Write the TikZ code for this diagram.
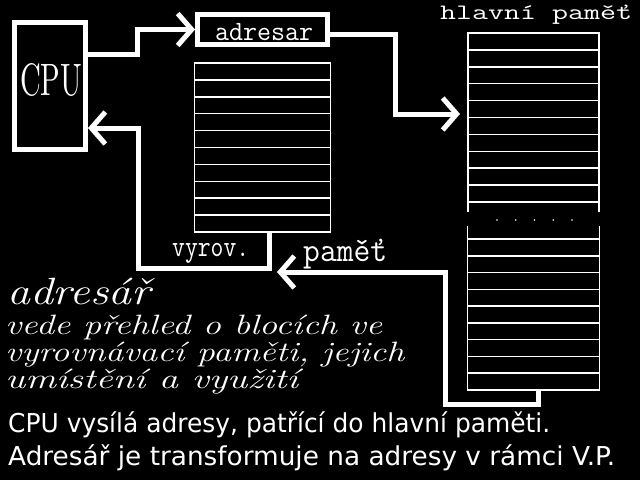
\documentclass[tikz,border=0pt]{standalone}
\usepackage{fontspec}
\usepackage{graphicx}
\usetikzlibrary{arrows.meta,positioning}
\newfontfamily\vgafont{DejaVu Sans}
\newcommand{\lblfont}{\ttfamily}
\newcommand{\fitw}[2]{\resizebox{#1}{\height}{#2}}
\tikzset{
  thickbox/.style={draw=white, line width=5pt, inner sep=0pt},
  rowbox/.style={draw=white, line width=1.5pt, inner sep=0pt, outer sep=0pt},
  row/.style={draw=white, line width=1.5pt},
  arr/.style={-{Straight Barb[length=14pt, width=32pt]}, line width=5pt, draw=white},
  txt/.style={text=white, inner sep=0pt, anchor=base west}
}
\begin{document}
\begin{tikzpicture}[x=1pt, y=-1pt]
\useasboundingbox (0,0) rectangle (640,480);
\fill[black] (0,0) rectangle (640,480);
% processor
\node[thickbox, minimum width=71pt, minimum height=127pt] (cpu) at (50,86) {};
\node[txt] (cpuname) at (20,95) {\resizebox{62pt}{32pt}{CPU}};
% directory and cache
\node[thickbox, minimum width=130pt, minimum height=30pt] (adresar) at (262.5,29.5) {};
\node[txt, font=\lblfont\fontsize{28}{28}\selectfont] (adrname) at (215,40) {\fitw{98pt}{adresar}};
\node[rowbox, minimum width=136pt, minimum height=169pt, below=16pt of adresar] (cache) {};
\foreach \i in {1,...,9}
  \draw[row] (cache.north west) ++(0,\i*16.9) -- ++(136,0);
\node[txt, font=\lblfont\fontsize{30}{30}\selectfont] (vyrov) at (172,256) {\fitw{77pt}{vyrov.}};
% main memory
\node[txt, font=\lblfont\fontsize{22}{22}\selectfont] (memname) at (440,19) {\fitw{192pt}{hlavní paměť}};
\node[rowbox, minimum width=131pt, minimum height=169pt] (memtop) at (533.5,117.5) {};
\foreach \i in {1,...,9}
  \draw[row] (memtop.north west) ++(0,\i*16.9) -- ++(131,0);
\node[rowbox, minimum width=132pt, minimum height=151pt, below=37pt of memtop] (membot) {};
\foreach \i in {1,...,8}
  \draw[row] (membot.north west) ++(0,\i*16.78) -- ++(132,0);
\draw[row] (memtop.south west) -- ++(0,10);
\draw[row] (memtop.south east) -- ++(0,10);
\draw[row] (membot.north west) -- ++(0,-13);
\draw[row] (membot.north east) -- ++(0,-13);
\foreach \k in {-2,...,2}
  \fill[white] (memtop.south) ++(\k*18.75+1,18) circle (0.9pt);
% connectors
\coordinate (vpin) at (277,272);
\draw[arr] ([yshift=32pt]cpu.east) -- ++(49,0) |- (adresar.west);
\draw[arr, shorten >=8pt] ([yshift=-5pt]adresar.east) -- ++(65,0) |- ([yshift=3.5pt]memtop.west);
\draw[arr] ([xshift=7pt]cache.south) -- ++(0,36) -- ++(-131,0) |- ([yshift=-42pt]cpu.east);
\draw[arr] ([xshift=4.5pt]membot.south) -- ++(0,14) -- ++(-93,0) |- (vpin);
\node[txt, font=\lblfont\fontsize{34}{34}\selectfont] (vpname) at (303,261) {\fitw{84pt}{paměť}};
% texts
\node[txt, font=\itshape\fontsize{38}{38}\selectfont] (dirtitle) at (7,304) {\fitw{143pt}{adresář}};
\node[txt, font=\itshape\fontsize{28}{28}\selectfont] (dirline1) at (5,334) {\fitw{377pt}{vede přehled o blocích ve}};
\node[txt, font=\itshape\fontsize{28}{28}\selectfont] (dirline2) at (5,361) {\fitw{399pt}{vyrovnávací paměti, jejich}};
\node[txt, font=\itshape\fontsize{28}{28}\selectfont] (dirline3) at (5,388) {\fitw{293pt}{umístění a využití}};
\node[txt, font=\vgafont\fontsize{26}{26}\selectfont] (note1) at (8,432) {\fitw{542pt}{CPU vysílá adresy, patřící do hlavní paměti.}};
\node[txt, font=\vgafont\fontsize{26}{26}\selectfont] (note2) at (8,465) {\fitw{607pt}{Adresář je transformuje na adresy v rámci V.P.}};
\end{tikzpicture}
\end{document}
